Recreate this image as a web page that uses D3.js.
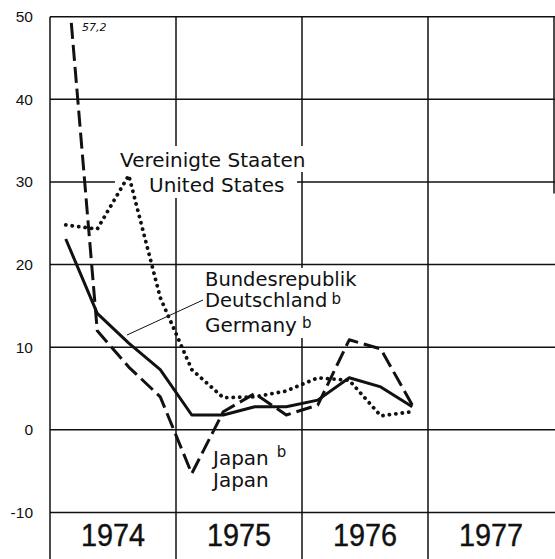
<!DOCTYPE html>
<html><head><meta charset="utf-8">
<script src="https://cdn.jsdelivr.net/npm/d3@7/dist/d3.min.js"></script>
<style>
html,body{margin:0;padding:0;background:#fff;}
svg{display:block;font-family:"DejaVu Sans",sans-serif;}
</style></head>
<body>
<svg id="chart" width="555" height="559"></svg>
<script>
// ---- data ----
const years = ["1974", "1975", "1976", "1977"];
const quarters = ["1974-1","1974-2","1974-3","1974-4","1975-1","1975-2","1975-3","1975-4","1976-1","1976-2","1976-3","1976-4"];
const usValues      = [24.8, 24.3, 30.8, 16.0, 7.3, 3.9, 4.0, 4.7, 6.3, 6.0, 1.7, 2.2];
const germanyValues = [23.1, 14.1, 10.5, 7.3, 1.8, 1.8, 2.8, 2.8, 3.6, 6.3, 5.2, 2.8];
const japanValues   = [57.2, 12.0, 7.6, 4.0, -5.3, 2.2, 4.4, 1.8, 3.0, 10.9, 9.8, 3.0];
const yTicks = [50, 40, 30, 20, 10, 0, -10];
const japanPeakLabel = "57,2";

// ---- layout ----
const svg = d3.select("#chart");
const W = 555, H = 559;
const mLeft = 50, mRight = 554, mTop = 16.7, mBottom = 512.5;

const y = d3.scaleLinear().domain([-10, 50]).range([mBottom, mTop]);
const xYear = d3.scaleBand().domain(years).range([mLeft, mRight]).paddingInner(0).paddingOuter(0);
const bw = xYear.bandwidth();
const xQ = d3.scalePoint().domain(quarters).range([mLeft + bw/8, mLeft + 3*bw - bw/8]);

const ink = "#111";

// horizontal grid lines
svg.append("g").selectAll("line").data(yTicks).join("line")
  .attr("x1", mLeft).attr("x2", W)
  .attr("y1", d => y(d)).attr("y2", d => y(d))
  .attr("stroke", ink).attr("stroke-width", 1.5);

// vertical year separators (down to bottom of image)
svg.append("g").selectAll("line").data(years).join("line")
  .attr("x1", d => xYear(d)).attr("x2", d => xYear(d))
  .attr("y1", mTop).attr("y2", H)
  .attr("stroke", ink).attr("stroke-width", 1.5);
// right border (partially visible)
svg.append("line").attr("x1", mRight).attr("x2", mRight).attr("y1", mTop).attr("y2", y(28.6))
  .attr("stroke", ink).attr("stroke-width", 1.5);

// y tick labels
svg.append("g").selectAll("text").data(yTicks).join("text")
  .attr("x", 33).attr("y", d => y(d) + 5.5)
  .attr("text-anchor", "end").attr("font-size", 15.5)
  .attr("font-family", "'Liberation Sans', Arial, sans-serif").attr("fill", ink)
  .text(d => d < 0 ? "-" + Math.abs(d) : d);

// year labels
svg.append("g").selectAll("text").data(years).join("text")
  .attr("transform", d => `translate(${xYear(d) + bw/2},546) scale(0.93,1)`)
  .attr("text-anchor", "middle").attr("font-size", 31)
  .attr("font-family", "'Liberation Sans', Arial, sans-serif")
  .attr("fill", ink).attr("stroke", ink).attr("stroke-width", 0.4)
  .text(d => d);

// white boxes behind labels
const boxes = [
  [115, 146, 310, 172],
  [115, 172, 297, 198],
  [200, 268, 362, 338],
  [208, 446, 296, 493]
];
svg.append("g").selectAll("rect").data(boxes).join("rect")
  .attr("x", d => d[0]).attr("y", d => d[1])
  .attr("width", d => d[2]-d[0]).attr("height", d => d[3]-d[1])
  .attr("fill", "#fff");

// clip
svg.append("clipPath").attr("id", "plotclip").append("rect")
  .attr("x", mLeft).attr("y", mTop).attr("width", mRight-mLeft).attr("height", H-mTop);

const line = d3.line().x((d,i) => xQ(quarters[i])).y(d => y(d));
const g = svg.append("g").attr("clip-path", "url(#plotclip)");

g.append("path").datum(japanValues).attr("d", line)
  .attr("fill", "none").attr("stroke", ink).attr("stroke-width", 3)
  .attr("stroke-dasharray", "16,6").attr("stroke-linejoin", "round");
g.append("path").datum(germanyValues).attr("d", line)
  .attr("fill", "none").attr("stroke", ink).attr("stroke-width", 3)
  .attr("stroke-linejoin", "round");
g.append("path").datum(usValues).attr("d", line)
  .attr("fill", "none").attr("stroke", ink).attr("stroke-width", 3.8)
  .attr("stroke-dasharray", "0.1,6.4").attr("stroke-linecap", "round");

// leader line for Germany
svg.append("line").attr("x1", 127).attr("y1", 335).attr("x2", 203).attr("y2", 300)
  .attr("stroke", ink).attr("stroke-width", 1);

// labels
const lab = svg.append("g").attr("fill", ink).attr("font-size", 20);
lab.append("text").attr("x", 120).attr("y", 167).text("Vereinigte Staaten");
lab.append("text").attr("x", 149).attr("y", 192).text("United States");

lab.append("text").attr("x", 205).attr("y", 286).attr("font-size", 19.5).text("Bundesrepublik");
const t2 = lab.append("text").attr("x", 205).attr("y", 307).attr("font-size", 19.5);
t2.append("tspan").text("Deutschland");
t2.append("tspan").attr("dx", 4).attr("dy", -3).attr("font-size", 15).text("b");
const t3 = lab.append("text").attr("x", 205).attr("y", 332);
t3.append("tspan").text("Germany");
t3.append("tspan").attr("dx", 5).attr("dy", -4).attr("font-size", 15).text("b");

const t4 = lab.append("text").attr("x", 213).attr("y", 465);
t4.append("tspan").text("Japan");
t4.append("tspan").attr("dx", 8).attr("dy", -8).attr("font-size", 15).text("b");
lab.append("text").attr("x", 213).attr("y", 487).text("Japan");

svg.append("text").attr("x", 82).attr("y", 31).attr("font-size", 11)
  .attr("font-style", "italic").attr("fill", ink).text(japanPeakLabel);
</script>
</body></html>
